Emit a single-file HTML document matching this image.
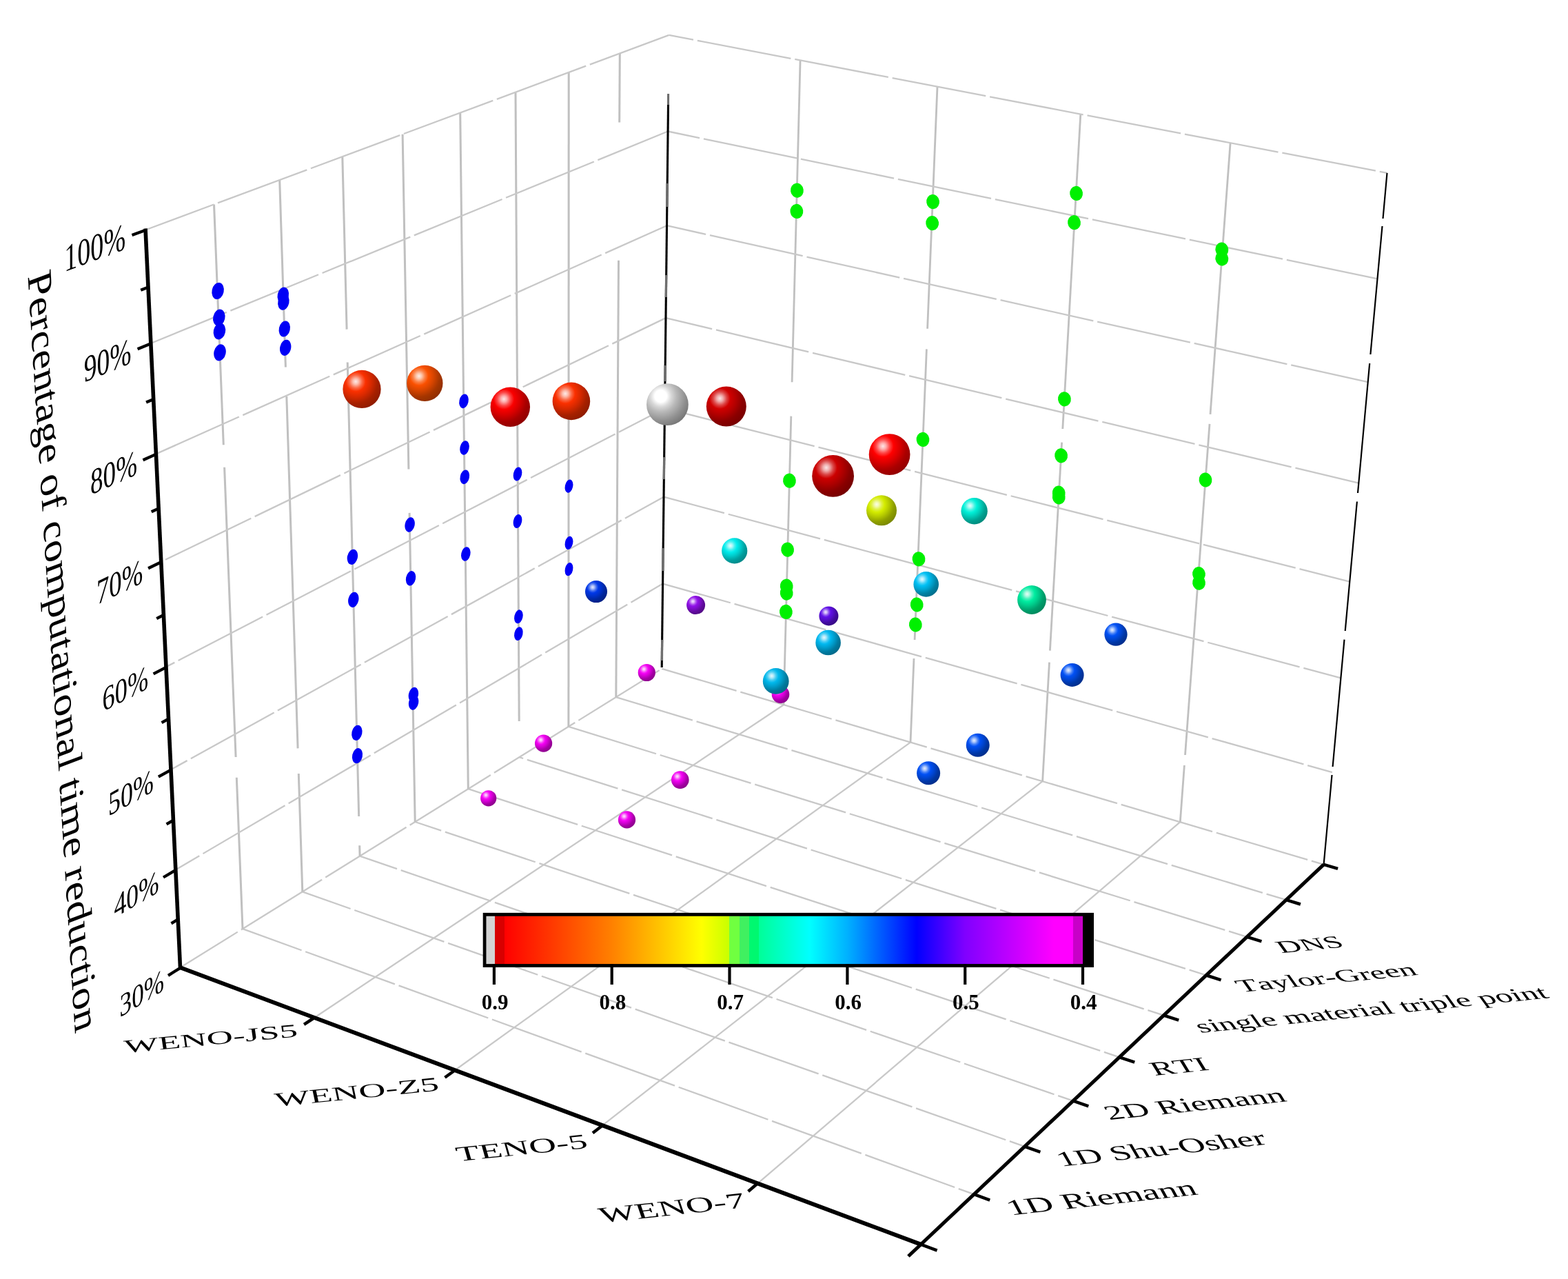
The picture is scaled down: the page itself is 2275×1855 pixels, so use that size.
<!DOCTYPE html>
<html><head><meta charset="utf-8"><title>3D scatter</title>
<style>html,body{margin:0;padding:0;background:#fff;}svg{display:block}text{font-kerning:none;fill:#000}</style></head>
<body><svg width="2275" height="1855" viewBox="0 0 2275 1855">
<rect width="2275" height="1855" fill="#fff"/>
<defs><radialGradient id="s0" cx="0.34" cy="0.3" r="0.84"><stop offset="0" stop-color="#fee6fe"/><stop offset="0.09" stop-color="#fbadfb"/><stop offset="0.2" stop-color="#f747f7"/><stop offset="0.31" stop-color="#f400f4"/><stop offset="0.48" stop-color="#d200d2"/><stop offset="0.68" stop-color="#a300a3"/><stop offset="1" stop-color="#7f007f"/></radialGradient><radialGradient id="s1" cx="0.34" cy="0.3" r="0.84"><stop offset="0" stop-color="#fee6fe"/><stop offset="0.09" stop-color="#fbadfb"/><stop offset="0.2" stop-color="#f747f7"/><stop offset="0.31" stop-color="#f400f4"/><stop offset="0.48" stop-color="#d200d2"/><stop offset="0.68" stop-color="#a300a3"/><stop offset="1" stop-color="#7f007f"/></radialGradient><radialGradient id="s2" cx="0.34" cy="0.3" r="0.84"><stop offset="0" stop-color="#fee6fe"/><stop offset="0.09" stop-color="#fbadfb"/><stop offset="0.2" stop-color="#f747f7"/><stop offset="0.31" stop-color="#f400f4"/><stop offset="0.48" stop-color="#d200d2"/><stop offset="0.68" stop-color="#a300a3"/><stop offset="1" stop-color="#7f007f"/></radialGradient><radialGradient id="s3" cx="0.34" cy="0.3" r="0.84"><stop offset="0" stop-color="#fee6fe"/><stop offset="0.09" stop-color="#fbadfb"/><stop offset="0.2" stop-color="#f747f7"/><stop offset="0.31" stop-color="#f400f4"/><stop offset="0.48" stop-color="#d200d2"/><stop offset="0.68" stop-color="#a300a3"/><stop offset="1" stop-color="#7f007f"/></radialGradient><radialGradient id="s4" cx="0.34" cy="0.3" r="0.84"><stop offset="0" stop-color="#fee6fe"/><stop offset="0.09" stop-color="#fbadfb"/><stop offset="0.2" stop-color="#f747f7"/><stop offset="0.31" stop-color="#f400f4"/><stop offset="0.48" stop-color="#d200d2"/><stop offset="0.68" stop-color="#a300a3"/><stop offset="1" stop-color="#7f007f"/></radialGradient><radialGradient id="s5" cx="0.34" cy="0.3" r="0.84"><stop offset="0" stop-color="#fee6fe"/><stop offset="0.09" stop-color="#fbadfb"/><stop offset="0.2" stop-color="#f747f7"/><stop offset="0.31" stop-color="#f400f4"/><stop offset="0.48" stop-color="#d200d2"/><stop offset="0.68" stop-color="#a300a3"/><stop offset="1" stop-color="#7f007f"/></radialGradient><radialGradient id="s6" cx="0.34" cy="0.3" r="0.84"><stop offset="0" stop-color="#feeae6"/><stop offset="0.09" stop-color="#fdbdad"/><stop offset="0.2" stop-color="#fb6a47"/><stop offset="0.31" stop-color="#fa3000"/><stop offset="0.48" stop-color="#d72900"/><stop offset="0.68" stop-color="#a72000"/><stop offset="1" stop-color="#821900"/></radialGradient><radialGradient id="s7" cx="0.34" cy="0.3" r="0.84"><stop offset="0" stop-color="#feeee6"/><stop offset="0.09" stop-color="#fdc7ad"/><stop offset="0.2" stop-color="#fb8147"/><stop offset="0.31" stop-color="#fa5000"/><stop offset="0.48" stop-color="#d74500"/><stop offset="0.68" stop-color="#a73600"/><stop offset="1" stop-color="#822a00"/></radialGradient><radialGradient id="s8" cx="0.34" cy="0.3" r="0.84"><stop offset="0" stop-color="#fee6e6"/><stop offset="0.09" stop-color="#fdadad"/><stop offset="0.2" stop-color="#fb4747"/><stop offset="0.31" stop-color="#fa0000"/><stop offset="0.48" stop-color="#d70000"/><stop offset="0.68" stop-color="#a70000"/><stop offset="1" stop-color="#820000"/></radialGradient><radialGradient id="s9" cx="0.34" cy="0.3" r="0.84"><stop offset="0" stop-color="#feeae6"/><stop offset="0.09" stop-color="#fdbdad"/><stop offset="0.2" stop-color="#fb6a47"/><stop offset="0.31" stop-color="#fa3000"/><stop offset="0.48" stop-color="#d72900"/><stop offset="0.68" stop-color="#a72000"/><stop offset="1" stop-color="#821900"/></radialGradient><radialGradient id="s10" cx="0.34" cy="0.3" r="0.84"><stop offset="0" stop-color="#ffffff"/><stop offset="0.17" stop-color="#ffffff"/><stop offset="0.3" stop-color="#d8d8d8"/><stop offset="0.45" stop-color="#b8b8b8"/><stop offset="0.7" stop-color="#909090"/><stop offset="1" stop-color="#686868"/></radialGradient><radialGradient id="s11" cx="0.34" cy="0.3" r="0.84"><stop offset="0" stop-color="#fae6e6"/><stop offset="0.09" stop-color="#f0adad"/><stop offset="0.2" stop-color="#dd4747"/><stop offset="0.31" stop-color="#d00000"/><stop offset="0.48" stop-color="#b30000"/><stop offset="0.68" stop-color="#8b0000"/><stop offset="1" stop-color="#6c0000"/></radialGradient><radialGradient id="s12" cx="0.34" cy="0.3" r="0.84"><stop offset="0" stop-color="#fae6e6"/><stop offset="0.09" stop-color="#efadad"/><stop offset="0.2" stop-color="#da4747"/><stop offset="0.31" stop-color="#cc0000"/><stop offset="0.48" stop-color="#af0000"/><stop offset="0.68" stop-color="#890000"/><stop offset="1" stop-color="#6a0000"/></radialGradient><radialGradient id="s13" cx="0.34" cy="0.3" r="0.84"><stop offset="0" stop-color="#ffe6e6"/><stop offset="0.09" stop-color="#ffadad"/><stop offset="0.2" stop-color="#ff4747"/><stop offset="0.31" stop-color="#ff0000"/><stop offset="0.48" stop-color="#db0000"/><stop offset="0.68" stop-color="#ab0000"/><stop offset="1" stop-color="#850000"/></radialGradient><radialGradient id="s14" cx="0.34" cy="0.3" r="0.84"><stop offset="0" stop-color="#fbfde6"/><stop offset="0.09" stop-color="#f1f9ad"/><stop offset="0.2" stop-color="#e0f147"/><stop offset="0.31" stop-color="#d4ec00"/><stop offset="0.48" stop-color="#b6cb00"/><stop offset="0.68" stop-color="#8e9e00"/><stop offset="1" stop-color="#6e7b00"/></radialGradient><radialGradient id="s15" cx="0.34" cy="0.3" r="0.84"><stop offset="0" stop-color="#e6fdfd"/><stop offset="0.09" stop-color="#adf9f9"/><stop offset="0.2" stop-color="#47f1f1"/><stop offset="0.31" stop-color="#00ecec"/><stop offset="0.48" stop-color="#00cbcb"/><stop offset="0.68" stop-color="#009e9e"/><stop offset="1" stop-color="#007b7b"/></radialGradient><radialGradient id="s16" cx="0.34" cy="0.3" r="0.84"><stop offset="0" stop-color="#e6fefb"/><stop offset="0.09" stop-color="#adfaf3"/><stop offset="0.2" stop-color="#47f4e3"/><stop offset="0.31" stop-color="#00f0d8"/><stop offset="0.48" stop-color="#00ceba"/><stop offset="0.68" stop-color="#00a191"/><stop offset="1" stop-color="#007d70"/></radialGradient><radialGradient id="s17" cx="0.34" cy="0.3" r="0.84"><stop offset="0" stop-color="#e6ebfd"/><stop offset="0.09" stop-color="#adbff8"/><stop offset="0.2" stop-color="#4770ee"/><stop offset="0.31" stop-color="#0038e8"/><stop offset="0.48" stop-color="#0030c8"/><stop offset="0.68" stop-color="#00269b"/><stop offset="1" stop-color="#001d79"/></radialGradient><radialGradient id="s18" cx="0.34" cy="0.3" r="0.84"><stop offset="0" stop-color="#f4e7fd"/><stop offset="0.09" stop-color="#dbb3f8"/><stop offset="0.2" stop-color="#af53ee"/><stop offset="0.31" stop-color="#9010e8"/><stop offset="0.48" stop-color="#7c0ec8"/><stop offset="0.68" stop-color="#600b9b"/><stop offset="1" stop-color="#4b0879"/></radialGradient><radialGradient id="s19" cx="0.34" cy="0.3" r="0.84"><stop offset="0" stop-color="#efe7fd"/><stop offset="0.09" stop-color="#ccb3f8"/><stop offset="0.2" stop-color="#8d53ee"/><stop offset="0.31" stop-color="#6010e8"/><stop offset="0.48" stop-color="#530ec8"/><stop offset="0.68" stop-color="#400b9b"/><stop offset="1" stop-color="#320879"/></radialGradient><radialGradient id="s20" cx="0.34" cy="0.3" r="0.84"><stop offset="0" stop-color="#e6f8fe"/><stop offset="0.09" stop-color="#ade8fa"/><stop offset="0.2" stop-color="#47ccf4"/><stop offset="0.31" stop-color="#00b8f0"/><stop offset="0.48" stop-color="#009ece"/><stop offset="0.68" stop-color="#007ba1"/><stop offset="1" stop-color="#00607d"/></radialGradient><radialGradient id="s21" cx="0.34" cy="0.3" r="0.84"><stop offset="0" stop-color="#e6f9fe"/><stop offset="0.09" stop-color="#adebfb"/><stop offset="0.2" stop-color="#47d2f7"/><stop offset="0.31" stop-color="#00c0f4"/><stop offset="0.48" stop-color="#00a5d2"/><stop offset="0.68" stop-color="#0081a3"/><stop offset="1" stop-color="#00647f"/></radialGradient><radialGradient id="s22" cx="0.34" cy="0.3" r="0.84"><stop offset="0" stop-color="#e6fdf6"/><stop offset="0.09" stop-color="#adf9e1"/><stop offset="0.2" stop-color="#47f1bb"/><stop offset="0.31" stop-color="#00eca0"/><stop offset="0.48" stop-color="#00cb8a"/><stop offset="0.68" stop-color="#009e6b"/><stop offset="1" stop-color="#007b53"/></radialGradient><radialGradient id="s23" cx="0.34" cy="0.3" r="0.84"><stop offset="0" stop-color="#e6eefe"/><stop offset="0.09" stop-color="#adc7fb"/><stop offset="0.2" stop-color="#4781f7"/><stop offset="0.31" stop-color="#0050f4"/><stop offset="0.48" stop-color="#0045d2"/><stop offset="0.68" stop-color="#0036a3"/><stop offset="1" stop-color="#002a7f"/></radialGradient><radialGradient id="s24" cx="0.34" cy="0.3" r="0.84"><stop offset="0" stop-color="#e6eefe"/><stop offset="0.09" stop-color="#adc7fb"/><stop offset="0.2" stop-color="#4781f7"/><stop offset="0.31" stop-color="#0050f4"/><stop offset="0.48" stop-color="#0045d2"/><stop offset="0.68" stop-color="#0036a3"/><stop offset="1" stop-color="#002a7f"/></radialGradient><radialGradient id="s25" cx="0.34" cy="0.3" r="0.84"><stop offset="0" stop-color="#e6eefe"/><stop offset="0.09" stop-color="#adc7fb"/><stop offset="0.2" stop-color="#4781f7"/><stop offset="0.31" stop-color="#0050f4"/><stop offset="0.48" stop-color="#0045d2"/><stop offset="0.68" stop-color="#0036a3"/><stop offset="1" stop-color="#002a7f"/></radialGradient><radialGradient id="s26" cx="0.34" cy="0.3" r="0.84"><stop offset="0" stop-color="#e6eefe"/><stop offset="0.09" stop-color="#adc7fb"/><stop offset="0.2" stop-color="#4781f7"/><stop offset="0.31" stop-color="#0050f4"/><stop offset="0.48" stop-color="#0045d2"/><stop offset="0.68" stop-color="#0036a3"/><stop offset="1" stop-color="#002a7f"/></radialGradient><radialGradient id="s27" cx="0.34" cy="0.3" r="0.84"><stop offset="0" stop-color="#e6f8fd"/><stop offset="0.09" stop-color="#ade8f9"/><stop offset="0.2" stop-color="#47ccf1"/><stop offset="0.31" stop-color="#00b8ec"/><stop offset="0.48" stop-color="#009ecb"/><stop offset="0.68" stop-color="#007b9e"/><stop offset="1" stop-color="#00607b"/></radialGradient><linearGradient id="cb" x1="0" y1="0" x2="1" y2="0"><stop offset="0.0000" stop-color="#d3d3d3"/><stop offset="0.0146" stop-color="#d3d3d3"/><stop offset="0.0146" stop-color="#d80000"/><stop offset="0.0302" stop-color="#d80000"/><stop offset="0.0302" stop-color="#ff0000"/><stop offset="0.2072" stop-color="#ff8000"/><stop offset="0.3565" stop-color="#ffff00"/><stop offset="0.4021" stop-color="#c8ff00"/><stop offset="0.4021" stop-color="#70ff40"/><stop offset="0.4192" stop-color="#70ff40"/><stop offset="0.4192" stop-color="#40f060"/><stop offset="0.4352" stop-color="#40f060"/><stop offset="0.4352" stop-color="#00f870"/><stop offset="0.4512" stop-color="#00f870"/><stop offset="0.4512" stop-color="#00ff98"/><stop offset="0.4842" stop-color="#00ffc0"/><stop offset="0.5355" stop-color="#00ffff"/><stop offset="0.5982" stop-color="#00b0ff"/><stop offset="0.7122" stop-color="#0000ff"/><stop offset="0.7920" stop-color="#8000ff"/><stop offset="0.9390" stop-color="#ff00ff"/><stop offset="0.9709" stop-color="#ff00ff"/><stop offset="0.9709" stop-color="#c800c8"/><stop offset="0.9869" stop-color="#c800c8"/><stop offset="0.9869" stop-color="#000000"/><stop offset="1.0000" stop-color="#000000"/></linearGradient></defs>
<g stroke-linecap="butt" fill="none">
<line x1="456.1" y1="1476" x2="1137" y2="1022.2" stroke="#c8c8c8" stroke-width="2.3"/>
<line x1="660" y1="1552.2" x2="1321" y2="1076.6" stroke="#c8c8c8" stroke-width="2.3"/>
<line x1="874.2" y1="1632.2" x2="1512.6" y2="1133.2" stroke="#c8c8c8" stroke-width="2.3"/>
<line x1="1099.3" y1="1716.3" x2="1712.3" y2="1192.2" stroke="#c8c8c8" stroke-width="2.3"/>
<line x1="352" y1="1347.2" x2="1413.2" y2="1732.2" stroke="#c8c8c8" stroke-width="2.3" stroke-dasharray="138 6" stroke-dashoffset="47"/>
<line x1="438.8" y1="1293.4" x2="1486.7" y2="1662.9" stroke="#c8c8c8" stroke-width="2.3" stroke-dasharray="138 6" stroke-dashoffset="64"/>
<line x1="522.1" y1="1241.7" x2="1557" y2="1596.7" stroke="#c8c8c8" stroke-width="2.3" stroke-dasharray="138 6" stroke-dashoffset="81"/>
<line x1="602.2" y1="1192" x2="1624.2" y2="1533.3" stroke="#c8c8c8" stroke-width="2.3" stroke-dasharray="138 6" stroke-dashoffset="98"/>
<line x1="679.3" y1="1144.2" x2="1688.5" y2="1472.7" stroke="#c8c8c8" stroke-width="2.3" stroke-dasharray="138 6" stroke-dashoffset="115"/>
<line x1="753.4" y1="1098.2" x2="1750.2" y2="1414.5" stroke="#c8c8c8" stroke-width="2.3" stroke-dasharray="138 6" stroke-dashoffset="132"/>
<line x1="824.9" y1="1053.9" x2="1809.3" y2="1358.8" stroke="#c8c8c8" stroke-width="2.3" stroke-dasharray="138 6" stroke-dashoffset="149"/>
<line x1="893.8" y1="1011.1" x2="1866.1" y2="1305.2" stroke="#c8c8c8" stroke-width="2.3" stroke-dasharray="138 6" stroke-dashoffset="166"/>
<line x1="261.5" y1="1403.3" x2="960.2" y2="969.9" stroke="#c8c8c8" stroke-width="2.3" stroke-dasharray="138 6" stroke-dashoffset="40"/>
<line x1="960.2" y1="969.9" x2="1920.6" y2="1253.8" stroke="#c8c8c8" stroke-width="2.3" stroke-dasharray="138 6" stroke-dashoffset="25"/>
<line x1="310.5" y1="296.5" x2="324.3" y2="645.3" stroke="#c0c0c0" stroke-width="3"/>
<line x1="325.6" y1="677.7" x2="342.1" y2="1098" stroke="#c0c0c0" stroke-width="3"/>
<line x1="343.3" y1="1127.7" x2="352" y2="1347.2" stroke="#c0c0c0" stroke-width="3"/>
<line x1="405.7" y1="261.1" x2="414.4" y2="532.5" stroke="#c0c0c0" stroke-width="3"/>
<line x1="415.8" y1="574.8" x2="432.1" y2="1085.4" stroke="#c0c0c0" stroke-width="3"/>
<line x1="433.3" y1="1122" x2="438.8" y2="1293.4" stroke="#c0c0c0" stroke-width="3"/>
<line x1="496.8" y1="227.2" x2="503.1" y2="477.6" stroke="#c0c0c0" stroke-width="3"/>
<line x1="504.2" y1="525.5" x2="520.7" y2="1184" stroke="#c0c0c0" stroke-width="3"/>
<line x1="521.7" y1="1226.3" x2="522.1" y2="1241.7" stroke="#c0c0c0" stroke-width="3"/>
<line x1="584.1" y1="194.7" x2="592.9" y2="680.5" stroke="#c0c0c0" stroke-width="3"/>
<line x1="594.1" y1="743.9" x2="602.2" y2="1192" stroke="#c0c0c0" stroke-width="3"/>
<line x1="667.7" y1="163.6" x2="679.3" y2="1144.2" stroke="#c0c0c0" stroke-width="3"/>
<line x1="748" y1="133.7" x2="753.2" y2="1046" stroke="#c0c0c0" stroke-width="3"/>
<line x1="825.2" y1="105" x2="824.9" y2="1053.9" stroke="#c0c0c0" stroke-width="3"/>
<line x1="899.3" y1="77.4" x2="898.7" y2="177.6" stroke="#c0c0c0" stroke-width="3"/>
<line x1="897.5" y1="377.7" x2="893.8" y2="1011.1" stroke="#c0c0c0" stroke-width="3"/>
<line x1="254.8" y1="1261.4" x2="961.6" y2="846.6" stroke="#c8c8c8" stroke-width="2.3" stroke-dasharray="138 6" stroke-dashoffset="98"/>
<line x1="248" y1="1116.2" x2="963" y2="720.7" stroke="#c8c8c8" stroke-width="2.3" stroke-dasharray="138 6" stroke-dashoffset="111"/>
<line x1="240.9" y1="967.3" x2="964.5" y2="592.2" stroke="#c8c8c8" stroke-width="2.3" stroke-dasharray="138 6" stroke-dashoffset="124"/>
<line x1="233.7" y1="814.8" x2="966" y2="461.1" stroke="#c8c8c8" stroke-width="2.3" stroke-dasharray="138 6" stroke-dashoffset="137"/>
<line x1="226.3" y1="658.4" x2="967.5" y2="327.2" stroke="#c8c8c8" stroke-width="2.3" stroke-dasharray="138 6" stroke-dashoffset="150"/>
<line x1="218.7" y1="498" x2="969" y2="190.5" stroke="#c8c8c8" stroke-width="2.3" stroke-dasharray="138 6" stroke-dashoffset="163"/>
<line x1="211" y1="333.5" x2="970.6" y2="50.9" stroke="#c8c8c8" stroke-width="2.3" stroke-dasharray="138 6" stroke-dashoffset="176"/>
<line x1="1161.1" y1="87.5" x2="1149.1" y2="554.3" stroke="#c0c0c0" stroke-width="2.8"/>
<line x1="1147.8" y1="603.6" x2="1137" y2="1022.2" stroke="#c0c0c0" stroke-width="2.8"/>
<line x1="1360" y1="125.6" x2="1345.6" y2="476.8" stroke="#c0c0c0" stroke-width="2.8"/>
<line x1="1344.4" y1="506.4" x2="1327.1" y2="928" stroke="#c0c0c0" stroke-width="2.8"/>
<line x1="1326" y1="955" x2="1321" y2="1076.6" stroke="#c0c0c0" stroke-width="2.8"/>
<line x1="1567.8" y1="165.5" x2="1541.8" y2="622" stroke="#c0c0c0" stroke-width="2.8"/>
<line x1="1540.6" y1="641.7" x2="1523.4" y2="943.7" stroke="#c0c0c0" stroke-width="2.8"/>
<line x1="1522.5" y1="960.6" x2="1512.6" y2="1133.2" stroke="#c0c0c0" stroke-width="2.8"/>
<line x1="1785.1" y1="207.3" x2="1756" y2="600.8" stroke="#c0c0c0" stroke-width="2.8"/>
<line x1="1755" y1="614.9" x2="1719.5" y2="1095" stroke="#c0c0c0" stroke-width="2.8"/>
<line x1="1718.4" y1="1110" x2="1712.3" y2="1192.2" stroke="#c0c0c0" stroke-width="2.8"/>
<line x1="961.6" y1="846.6" x2="1932.9" y2="1120.1" stroke="#c8c8c8" stroke-width="2.3" stroke-dasharray="138 6" stroke-dashoffset="36"/>
<line x1="963" y1="720.7" x2="1945.4" y2="983.4" stroke="#c8c8c8" stroke-width="2.3" stroke-dasharray="138 6" stroke-dashoffset="47"/>
<line x1="964.5" y1="592.2" x2="1958.2" y2="843.6" stroke="#c8c8c8" stroke-width="2.3" stroke-dasharray="138 6" stroke-dashoffset="58"/>
<line x1="966" y1="461.1" x2="1971.3" y2="700.6" stroke="#c8c8c8" stroke-width="2.3" stroke-dasharray="138 6" stroke-dashoffset="69"/>
<line x1="967.5" y1="327.2" x2="1984.7" y2="554.2" stroke="#c8c8c8" stroke-width="2.3" stroke-dasharray="138 6" stroke-dashoffset="80"/>
<line x1="969" y1="190.5" x2="1998.5" y2="404.3" stroke="#c8c8c8" stroke-width="2.3" stroke-dasharray="138 6" stroke-dashoffset="91"/>
<line x1="970.6" y1="50.9" x2="2012.5" y2="250.9" stroke="#c8c8c8" stroke-width="2.3" stroke-dasharray="138 6" stroke-dashoffset="102"/>
</g>
<line x1="969.6" y1="136" x2="969.5" y2="152" stroke="#6e6e6e" stroke-width="3.1"/>
<line x1="969.5" y1="152" x2="960.2" y2="968" stroke="#000" stroke-width="3.1"/>
<line x1="968.2" y1="266" x2="968" y2="284" stroke="#6e6e6e" stroke-width="3.3"/>
<line x1="968" y1="284" x2="967.8" y2="300" stroke="#707070" stroke-width="3.3"/>
<line x1="966.7" y1="399" x2="966.5" y2="416" stroke="#6e6e6e" stroke-width="3.3"/>
<line x1="966.5" y1="416" x2="966.3" y2="431" stroke="#707070" stroke-width="3.3"/>
<line x1="965.2" y1="530" x2="964.9" y2="553" stroke="#6e6e6e" stroke-width="3.3"/>
<line x1="963.7" y1="663" x2="963.5" y2="680" stroke="#6e6e6e" stroke-width="3.3"/>
<line x1="963.5" y1="680" x2="963.3" y2="695" stroke="#707070" stroke-width="3.3"/>
<line x1="962.2" y1="795" x2="962" y2="812" stroke="#6e6e6e" stroke-width="3.3"/>
<line x1="962" y1="812" x2="961.8" y2="828" stroke="#707070" stroke-width="3.3"/>
<line x1="960.7" y1="928" x2="960.5" y2="944" stroke="#6e6e6e" stroke-width="3.3"/>
<line x1="960.5" y1="944" x2="960.4" y2="958" stroke="#707070" stroke-width="3.3"/>
<line x1="2012.5" y1="250.9" x2="2006.5" y2="317" stroke="#000" stroke-width="2.2"/>
<line x1="2005.5" y1="328" x2="1988.4" y2="514" stroke="#000" stroke-width="2.2"/>
<line x1="1987.2" y1="527" x2="1970" y2="715" stroke="#000" stroke-width="2.2"/>
<line x1="1968.9" y1="727.5" x2="1951.7" y2="915" stroke="#000" stroke-width="2.2"/>
<line x1="1950.5" y1="927.6" x2="1933.6" y2="1112" stroke="#000" stroke-width="2.2"/>
<line x1="1932.5" y1="1124" x2="1920.6" y2="1253.8" stroke="#000" stroke-width="2.2"/>
<ellipse cx="316.1" cy="422" rx="8.6" ry="12.2" fill="#0000f5" transform="rotate(12 316.1 422)"/>
<ellipse cx="317.8" cy="460.7" rx="8.6" ry="12.2" fill="#0000f5" transform="rotate(12 317.8 460.7)"/>
<ellipse cx="318.4" cy="480.4" rx="8.6" ry="12.2" fill="#0000f5" transform="rotate(12 318.4 480.4)"/>
<ellipse cx="319" cy="511.4" rx="8.6" ry="12.2" fill="#0000f5" transform="rotate(12 319 511.4)"/>
<ellipse cx="410.8" cy="428.2" rx="8.1" ry="11.8" fill="#0000f5" transform="rotate(12 410.8 428.2)"/>
<ellipse cx="411.4" cy="438.1" rx="8.1" ry="11.8" fill="#0000f5" transform="rotate(12 411.4 438.1)"/>
<ellipse cx="412.8" cy="477" rx="8" ry="11.7" fill="#0000f5" transform="rotate(12 412.8 477)"/>
<ellipse cx="414.2" cy="504.3" rx="8" ry="11.7" fill="#0000f5" transform="rotate(12 414.2 504.3)"/>
<ellipse cx="511.4" cy="807.8" rx="7.5" ry="11.3" fill="#0000f5" transform="rotate(12 511.4 807.8)"/>
<ellipse cx="512.8" cy="869.8" rx="7.5" ry="11.3" fill="#0000f5" transform="rotate(12 512.8 869.8)"/>
<ellipse cx="517.9" cy="1062.8" rx="7.5" ry="11.2" fill="#0000f5" transform="rotate(12 517.9 1062.8)"/>
<ellipse cx="518.5" cy="1096.1" rx="7.4" ry="11.2" fill="#0000f5" transform="rotate(12 518.5 1096.1)"/>
<ellipse cx="594.6" cy="761" rx="7" ry="10.9" fill="#0000f5" transform="rotate(12 594.6 761)"/>
<ellipse cx="596" cy="838.8" rx="7" ry="10.9" fill="#0000f5" transform="rotate(12 596 838.8)"/>
<ellipse cx="599.9" cy="1007.5" rx="7" ry="10.9" fill="#0000f5" transform="rotate(12 599.9 1007.5)"/>
<ellipse cx="600.1" cy="1019" rx="7" ry="10.9" fill="#0000f5" transform="rotate(12 600.1 1019)"/>
<ellipse cx="673" cy="581.8" rx="6.6" ry="10.5" fill="#0000f5" transform="rotate(12 673 581.8)"/>
<ellipse cx="674" cy="649.5" rx="6.6" ry="10.5" fill="#0000f5" transform="rotate(12 674 649.5)"/>
<ellipse cx="674.3" cy="691.8" rx="6.6" ry="10.5" fill="#0000f5" transform="rotate(12 674.3 691.8)"/>
<ellipse cx="675.8" cy="803.5" rx="6.6" ry="10.5" fill="#0000f5" transform="rotate(12 675.8 803.5)"/>
<ellipse cx="751" cy="687.5" rx="6.1" ry="10.2" fill="#0000f5" transform="rotate(12 751 687.5)"/>
<ellipse cx="751" cy="756" rx="6.1" ry="10.2" fill="#0000f5" transform="rotate(12 751 756)"/>
<ellipse cx="752.4" cy="894.3" rx="6.1" ry="10.1" fill="#0000f5" transform="rotate(12 752.4 894.3)"/>
<ellipse cx="752.4" cy="919.1" rx="6.1" ry="10.1" fill="#0000f5" transform="rotate(12 752.4 919.1)"/>
<ellipse cx="825.5" cy="705.1" rx="5.7" ry="9.8" fill="#0000f5" transform="rotate(12 825.5 705.1)"/>
<ellipse cx="825.5" cy="787.4" rx="5.7" ry="9.8" fill="#0000f5" transform="rotate(12 825.5 787.4)"/>
<ellipse cx="825.5" cy="825.7" rx="5.7" ry="9.8" fill="#0000f5" transform="rotate(12 825.5 825.7)"/>
<ellipse cx="1156.4" cy="276.2" rx="9.4" ry="10.6" fill="#00f000" transform="rotate(-8 1156.4 276.2)"/>
<ellipse cx="1155.9" cy="306.4" rx="9.4" ry="10.6" fill="#00f000" transform="rotate(-8 1155.9 306.4)"/>
<ellipse cx="1145.4" cy="697.2" rx="9.4" ry="10.6" fill="#00f000" transform="rotate(-8 1145.4 697.2)"/>
<ellipse cx="1142.6" cy="797.2" rx="9.4" ry="10.6" fill="#00f000" transform="rotate(-8 1142.6 797.2)"/>
<ellipse cx="1141.2" cy="850.2" rx="9.4" ry="10.6" fill="#00f000" transform="rotate(-8 1141.2 850.2)"/>
<ellipse cx="1141.2" cy="860.1" rx="9.4" ry="10.6" fill="#00f000" transform="rotate(-8 1141.2 860.1)"/>
<ellipse cx="1140.4" cy="887.4" rx="9.4" ry="10.6" fill="#00f000" transform="rotate(-8 1140.4 887.4)"/>
<ellipse cx="1353.6" cy="292.6" rx="9.4" ry="10.6" fill="#00f000" transform="rotate(-8 1353.6 292.6)"/>
<ellipse cx="1352.7" cy="323.6" rx="9.4" ry="10.6" fill="#00f000" transform="rotate(-8 1352.7 323.6)"/>
<ellipse cx="1339" cy="637.4" rx="9.4" ry="10.6" fill="#00f000" transform="rotate(-8 1339 637.4)"/>
<ellipse cx="1333" cy="810.8" rx="9.4" ry="10.6" fill="#00f000" transform="rotate(-8 1333 810.8)"/>
<ellipse cx="1330.2" cy="877" rx="9.4" ry="10.6" fill="#00f000" transform="rotate(-8 1330.2 877)"/>
<ellipse cx="1328.3" cy="906" rx="9.4" ry="10.6" fill="#00f000" transform="rotate(-8 1328.3 906)"/>
<ellipse cx="1561.6" cy="280.4" rx="9.4" ry="10.6" fill="#00f000" transform="rotate(-8 1561.6 280.4)"/>
<ellipse cx="1558.5" cy="322.7" rx="9.4" ry="10.6" fill="#00f000" transform="rotate(-8 1558.5 322.7)"/>
<ellipse cx="1544.4" cy="578.8" rx="9.4" ry="10.6" fill="#00f000" transform="rotate(-8 1544.4 578.8)"/>
<ellipse cx="1539.6" cy="660.8" rx="9.4" ry="10.6" fill="#00f000" transform="rotate(-8 1539.6 660.8)"/>
<ellipse cx="1536.2" cy="715" rx="9.4" ry="10.6" fill="#00f000" transform="rotate(-8 1536.2 715)"/>
<ellipse cx="1536.2" cy="721" rx="9.4" ry="10.6" fill="#00f000" transform="rotate(-8 1536.2 721)"/>
<ellipse cx="1772.8" cy="362" rx="9.4" ry="10.6" fill="#00f000" transform="rotate(-8 1772.8 362)"/>
<ellipse cx="1772.8" cy="375" rx="9.4" ry="10.6" fill="#00f000" transform="rotate(-8 1772.8 375)"/>
<ellipse cx="1749" cy="696" rx="9.4" ry="10.6" fill="#00f000" transform="rotate(-8 1749 696)"/>
<ellipse cx="1739.5" cy="832.5" rx="9.4" ry="10.6" fill="#00f000" transform="rotate(-8 1739.5 832.5)"/>
<ellipse cx="1739.5" cy="845.2" rx="9.4" ry="10.6" fill="#00f000" transform="rotate(-8 1739.5 845.2)"/>
<circle cx="938.3" cy="975.5" r="12.6" fill="url(#s0)"/>
<circle cx="788.6" cy="1078.1" r="12.6" fill="url(#s1)"/>
<circle cx="708.7" cy="1157.8" r="11.6" fill="url(#s2)"/>
<circle cx="986.8" cy="1131.1" r="12.8" fill="url(#s3)"/>
<circle cx="909.5" cy="1188.9" r="12.6" fill="url(#s4)"/>
<circle cx="1132.5" cy="1007.1" r="12.8" fill="url(#s5)"/>
<circle cx="525" cy="564.4" r="27.6" fill="url(#s6)"/>
<circle cx="616.3" cy="555.9" r="26.2" fill="url(#s7)"/>
<circle cx="740.3" cy="590.3" r="28.7" fill="url(#s8)"/>
<circle cx="828.9" cy="581.9" r="27.3" fill="url(#s9)"/>
<circle cx="968.4" cy="586.7" r="30.4" fill="url(#s10)"/>
<circle cx="1053.8" cy="589.5" r="29" fill="url(#s11)"/>
<circle cx="1208.6" cy="690.4" r="30.4" fill="url(#s12)"/>
<circle cx="1290.6" cy="659.1" r="29.9" fill="url(#s13)"/>
<circle cx="1279" cy="740.3" r="22" fill="url(#s14)"/>
<circle cx="1065.7" cy="798.9" r="18.6" fill="url(#s15)"/>
<circle cx="1413.6" cy="741.2" r="19.2" fill="url(#s16)"/>
<circle cx="865" cy="858.1" r="16" fill="url(#s17)"/>
<circle cx="1009.6" cy="877.6" r="13.5" fill="url(#s18)"/>
<circle cx="1202.4" cy="893.4" r="14" fill="url(#s19)"/>
<circle cx="1201.6" cy="932" r="18.3" fill="url(#s20)"/>
<circle cx="1343.7" cy="847.4" r="18.3" fill="url(#s21)"/>
<circle cx="1497" cy="870" r="20.9" fill="url(#s22)"/>
<circle cx="1619" cy="920.2" r="16.6" fill="url(#s23)"/>
<circle cx="1555.6" cy="978.9" r="17" fill="url(#s24)"/>
<circle cx="1418.7" cy="1080.7" r="17" fill="url(#s25)"/>
<circle cx="1347.1" cy="1121.3" r="17" fill="url(#s26)"/>
<circle cx="1125.7" cy="987.9" r="18.9" fill="url(#s27)"/>
<line x1="211" y1="331.5" x2="261.5" y2="1403.3" stroke="#000" stroke-width="5.6"/>
<line x1="212" y1="333.5" x2="191.5" y2="341.1" stroke="#000" stroke-width="4.3"/>
<line x1="215.9" y1="416.3" x2="204.2" y2="420.8" stroke="#000" stroke-width="4.3"/>
<line x1="219.7" y1="498" x2="199.6" y2="506.3" stroke="#000" stroke-width="4.3"/>
<line x1="223.6" y1="578.7" x2="212.1" y2="583.6" stroke="#000" stroke-width="4.3"/>
<line x1="227.3" y1="658.4" x2="207.5" y2="667.3" stroke="#000" stroke-width="4.3"/>
<line x1="231" y1="737.1" x2="219.7" y2="742.3" stroke="#000" stroke-width="4.3"/>
<line x1="234.7" y1="814.8" x2="215.1" y2="824.2" stroke="#000" stroke-width="4.3"/>
<line x1="238.4" y1="891.5" x2="227.2" y2="897.1" stroke="#000" stroke-width="4.3"/>
<line x1="241.9" y1="967.3" x2="222.6" y2="977.3" stroke="#000" stroke-width="4.3"/>
<line x1="245.5" y1="1042.2" x2="234.5" y2="1048.1" stroke="#000" stroke-width="4.3"/>
<line x1="249" y1="1116.2" x2="229.9" y2="1126.7" stroke="#000" stroke-width="4.3"/>
<line x1="252.4" y1="1189.2" x2="241.6" y2="1195.4" stroke="#000" stroke-width="4.3"/>
<line x1="255.8" y1="1261.4" x2="237" y2="1272.5" stroke="#000" stroke-width="4.3"/>
<line x1="259.2" y1="1332.8" x2="248.5" y2="1339.3" stroke="#000" stroke-width="4.3"/>
<line x1="262.5" y1="1403.3" x2="244" y2="1414.8" stroke="#000" stroke-width="4.3"/>
<line x1="259.5" y1="1402.5" x2="1336.2" y2="1804.9" stroke="#000" stroke-width="6.0"/>
<line x1="456.1" y1="1476" x2="441.1" y2="1485.9" stroke="#000" stroke-width="4.5"/>
<line x1="660" y1="1552.2" x2="645.5" y2="1562.7" stroke="#000" stroke-width="4.5"/>
<line x1="874.2" y1="1632.2" x2="860" y2="1643.3" stroke="#000" stroke-width="4.5"/>
<line x1="1099.3" y1="1716.3" x2="1085.6" y2="1728" stroke="#000" stroke-width="4.5"/>
<line x1="1317.9" y1="1822" x2="1920.6" y2="1253.8" stroke="#000" stroke-width="5.1"/>
<line x1="1336.2" y1="1804.9" x2="1359.6" y2="1813.6" stroke="#000" stroke-width="4.5"/>
<line x1="1413.2" y1="1732.2" x2="1436.2" y2="1740.6" stroke="#000" stroke-width="4.5"/>
<line x1="1486.7" y1="1662.9" x2="1509.4" y2="1670.9" stroke="#000" stroke-width="4.5"/>
<line x1="1557" y1="1596.7" x2="1579.3" y2="1604.3" stroke="#000" stroke-width="4.5"/>
<line x1="1624.2" y1="1533.3" x2="1646.2" y2="1540.7" stroke="#000" stroke-width="4.5"/>
<line x1="1688.5" y1="1472.7" x2="1710.2" y2="1479.7" stroke="#000" stroke-width="4.5"/>
<line x1="1750.2" y1="1414.5" x2="1771.6" y2="1421.3" stroke="#000" stroke-width="4.5"/>
<line x1="1809.3" y1="1358.8" x2="1830.4" y2="1365.3" stroke="#000" stroke-width="4.5"/>
<line x1="1866.1" y1="1305.2" x2="1886.9" y2="1311.5" stroke="#000" stroke-width="4.5"/>
<line x1="1920.6" y1="1253.8" x2="1941.1" y2="1259.9" stroke="#000" stroke-width="4.5"/>
<rect x="703.2" y="1326.5" width="881.3" height="73.79999999999995" fill="#000"/>
<rect x="705.2" y="1328.5" width="877.3" height="69.79999999999995" fill="url(#cb)"/>
<rect x="703.0" y="1326.2" width="881.6999999999999" height="74.39999999999995" fill="none" stroke="#000" stroke-width="4.6"/>
<rect x="714.8" y="1398.3" width="4.2" height="29.7" fill="#000"/>
<text x="718.1" y="1463.6" font-family="'Liberation Serif',serif" font-weight="bold" font-size="31" text-anchor="middle">0.9</text>
<rect x="885.6" y="1398.3" width="4.2" height="29.7" fill="#000"/>
<text x="888.9" y="1463.6" font-family="'Liberation Serif',serif" font-weight="bold" font-size="31" text-anchor="middle">0.8</text>
<rect x="1056.4" y="1398.3" width="4.2" height="29.7" fill="#000"/>
<text x="1059.7" y="1463.6" font-family="'Liberation Serif',serif" font-weight="bold" font-size="31" text-anchor="middle">0.7</text>
<rect x="1227.3" y="1398.3" width="4.2" height="29.7" fill="#000"/>
<text x="1230.6" y="1463.6" font-family="'Liberation Serif',serif" font-weight="bold" font-size="31" text-anchor="middle">0.6</text>
<rect x="1398.1" y="1398.3" width="4.2" height="29.7" fill="#000"/>
<text x="1401.4" y="1463.6" font-family="'Liberation Serif',serif" font-weight="bold" font-size="31" text-anchor="middle">0.5</text>
<rect x="1568.9" y="1398.3" width="4.2" height="29.7" fill="#000"/>
<text x="1572.2" y="1463.6" font-family="'Liberation Serif',serif" font-weight="bold" font-size="31" text-anchor="middle">0.4</text>
<text transform="matrix(0.9531 -0.3582 0.0000 1.3847 93.2 394.4)" font-family="'Liberation Serif',serif" font-size="40">100%</text>
<text transform="matrix(0.9387 -0.3882 0.0000 1.3466 121.8 554.8)" font-family="'Liberation Serif',serif" font-size="40">90%</text>
<text transform="matrix(0.9285 -0.4182 0.0000 1.3124 131.0 718.2)" font-family="'Liberation Serif',serif" font-size="40">80%</text>
<text transform="matrix(0.9187 -0.4470 0.0000 1.2796 139.9 877.4)" font-family="'Liberation Serif',serif" font-size="40">70%</text>
<text transform="matrix(0.9091 -0.4744 0.0000 1.2479 148.6 1032.7)" font-family="'Liberation Serif',serif" font-size="40">60%</text>
<text transform="matrix(0.8998 -0.5007 0.0000 1.2174 157.1 1184.1)" font-family="'Liberation Serif',serif" font-size="40">50%</text>
<text transform="matrix(0.8908 -0.5258 0.0000 1.1881 165.4 1331.8)" font-family="'Liberation Serif',serif" font-size="40">40%</text>
<text transform="matrix(0.8820 -0.5499 0.0000 1.1597 173.5 1476.0)" font-family="'Liberation Serif',serif" font-size="40">30%</text>
<text transform="matrix(1.3170 -0.1251 0.0984 0.6708 181.2 1527.2)" font-family="'Liberation Serif',serif" font-size="40">WENO-JS5</text>
<text transform="matrix(1.3372 -0.1325 0.1501 0.7051 400.7 1605.0)" font-family="'Liberation Serif',serif" font-size="40">WENO-Z5</text>
<text transform="matrix(1.3559 -0.1403 0.2106 0.7411 664.8 1684.3)" font-family="'Liberation Serif',serif" font-size="40">TENO-5</text>
<text transform="matrix(1.3789 -0.1491 0.2689 0.7819 873.0 1773.6)" font-family="'Liberation Serif',serif" font-size="40">WENO-7</text>
<text transform="matrix(1.3418 -0.1481 0.4175 0.7703 1466.9 1762.4)" font-family="'Liberation Serif',serif" font-size="40">1D Riemann</text>
<text transform="matrix(1.3052 -0.1406 0.4281 0.7353 1540.0 1691.8)" font-family="'Liberation Serif',serif" font-size="40">1D Shu-Osher</text>
<text transform="matrix(1.2743 -0.1339 0.4302 0.7045 1609.5 1624.3)" font-family="'Liberation Serif',serif" font-size="40">2D Riemann</text>
<text transform="matrix(1.2526 -0.1284 0.4171 0.6793 1675.5 1559.9)" font-family="'Liberation Serif',serif" font-size="40">RTI</text>
<text transform="matrix(1.1991 -0.1201 0.4657 0.6401 1742.1 1497.9)" font-family="'Liberation Serif',serif" font-size="40">single material triple point</text>
<text transform="matrix(1.1840 -0.1158 0.4443 0.6203 1801.0 1438.9)" font-family="'Liberation Serif',serif" font-size="40">Taylor-Green</text>
<text transform="matrix(1.1651 -0.1113 0.4316 0.5994 1859.0 1382.3)" font-family="'Liberation Serif',serif" font-size="40">DNS</text>
<text transform="matrix(0.0980 1.5713 -1.2500 0.4750 40.4 401.1)" font-family="'Liberation Serif',serif" font-size="40">Percentage of computational time reduction</text>
</svg></body></html>
